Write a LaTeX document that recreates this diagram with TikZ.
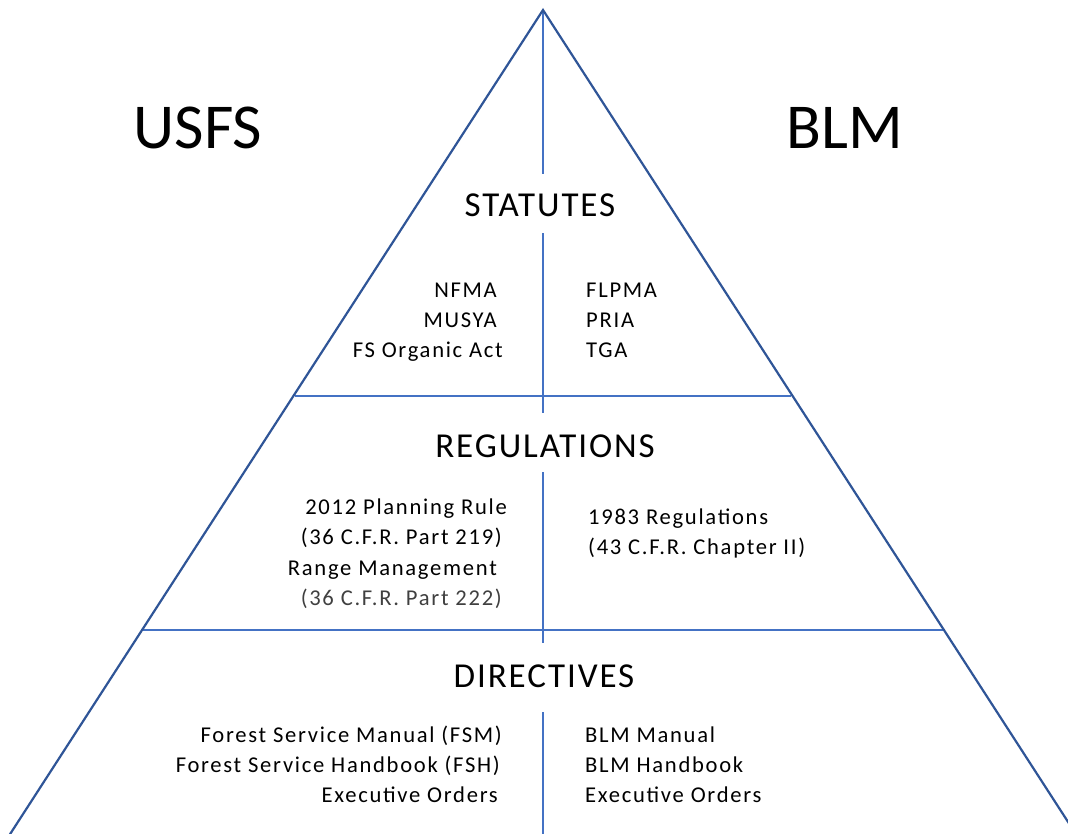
\documentclass[tikz,border=0pt]{standalone}
\usepackage{fontspec}
\setmainfont{Carlito}
\newfontfamily\smallfam[LetterSpace=7.6]{Carlito}
\newfontfamily\headfam[LetterSpace=5.5]{Carlito}
\definecolor{edgeblue}{HTML}{2F5597}
\definecolor{lineblue}{HTML}{4472C4}
\definecolor{txtgray}{HTML}{404040}
\begin{document}
\begin{tikzpicture}[x=1pt,y=-1pt,
  edge/.style={draw=edgeblue,line width=2.2pt},
  divider/.style={draw=lineblue,line width=2.2pt},
  big/.style={inner sep=0pt,font=\fontsize{64}{70}\selectfont},
  head/.style={inner sep=0pt,font=\headfam\fontsize{35}{40}\selectfont,anchor=base},
  lt/.style={inner sep=0pt,font=\smallfam\fontsize{22.6}{26}\selectfont,anchor=base west},
  rt/.style={inner sep=0pt,font=\smallfam\fontsize{22.6}{26}\selectfont,anchor=base east}]
\useasboundingbox (0,0) rectangle (1068,833);
\clip (0,0) rectangle (1068,833);
% geometry
\coordinate (apex) at (543,10);
\coordinate (bl) at (8.2,837);
\coordinate (br) at (1077.8,837);
\coordinate (h1l) at (294.6,396);
\coordinate (h1r) at (791.4,396);
\coordinate (h2l) at (142.1,630);
\coordinate (h2r) at (943.9,630);
\coordinate (v1b) at (543,174);
\coordinate (v2t) at (543,233);
\coordinate (v2b) at (543,413);
\coordinate (v3t) at (543,472);
\coordinate (v3b) at (543,643);
\coordinate (v4t) at (543,712);
\coordinate (v4b) at (543,840);
% dividers
\draw[divider] (h1l) -- (h1r);
\draw[divider] (h2l) -- (h2r);
\draw[divider] (apex) -- (v1b);
\draw[divider] (v2t) -- (v2b);
\draw[divider] (v3t) -- (v3b);
\draw[divider] (v4t) -- (v4b);
% triangle
\draw[edge,line join=miter] (bl) -- (apex) -- (br);
% titles
\node[big,anchor=base] (usfs) at (198,148) {USFS};
\node[big,anchor=base] (blm) at (845,148) {BLM};
\node[head] (stat) at (540,216) {STATUTES};
\node[head] (reg) at (545,457) {REGULATIONS};
\node[head] (dir) at (544,687) {DIRECTIVES};
% statutes
\node[rt] (s1) at (497,297) {NFMA};
\node[rt] (s2) at (497,327) {MUSYA};
\node[rt] (s3) at (503,357) {FS Organic Act};
\node[lt] (s4) at (586,297) {FLPMA};
\node[lt] (s5) at (586,327) {PRIA};
\node[lt] (s6) at (586,357) {TGA};
% regulations
\node[rt] (r1) at (507,514) {2012 Planning Rule};
\node[rt] (r2) at (502,544) {(36 C.F.R. Part 219)};
\node[rt] (r3) at (497,575) {Range Management};
\node[rt,text=txtgray] (r4) at (502,605) {(36 C.F.R. Part 222)};
\node[lt] (r5) at (588,524) {1983 Regulations};
\node[lt] (r6) at (588,554) {(43 C.F.R. Chapter II)};
% directives
\node[rt] (d1) at (502,742) {Forest Service Manual (FSM)};
\node[rt] (d2) at (500,772) {Forest Service Handbook (FSH)};
\node[rt] (d3) at (498,802) {Executive Orders};
\node[lt] (d4) at (585,742) {BLM Manual};
\node[lt] (d5) at (585,772) {BLM Handbook};
\node[lt] (d6) at (585,802) {Executive Orders};
\end{tikzpicture}
\end{document}
